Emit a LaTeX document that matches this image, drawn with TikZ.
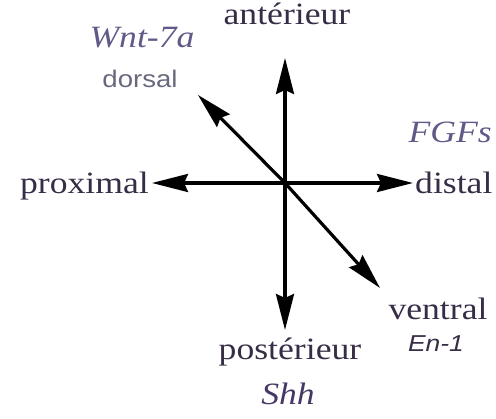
\documentclass[tikz,border=0pt]{standalone}
\usepackage{fontspec}
\setmainfont{Liberation Serif}[FakeStretch=1.15]
\setsansfont{Liberation Sans}[FakeStretch=1.15]
\usetikzlibrary{arrows.meta}
\definecolor{inkcol}{RGB}{55,45,70}
\definecolor{genecol}{RGB}{95,90,135}
\definecolor{shhcol}{RGB}{70,55,100}
\definecolor{sanscol}{RGB}{105,105,125}

\begin{document}
\begin{tikzpicture}[
  x=1pt, y=-1pt,
  lbl/.style={font=\fontsize{31}{33}\selectfont, text=inkcol, inner sep=0pt, anchor=base},
  gene/.style={lbl, font=\fontsize{31}{33}\selectfont\itshape, text=genecol},
  slbl/.style={lbl, font=\sffamily\fontsize{24}{26}\selectfont, text=sanscol},
  sgene/.style={lbl, font=\sffamily\itshape\fontsize{23}{25}\selectfont, text=inkcol},
  axis/.style={line width=3.2pt, -{Stealth[length=36pt, width=18pt, inset=4pt]}},
]
\useasboundingbox (0,0) rectangle (496,419);

% axes
\coordinate (o) at (285,183);
\coordinate (ant) at (285,58);
\coordinate (post) at (285,330);
\coordinate (prox) at (152,183);
\coordinate (dist) at (413,183);
\coordinate (dors) at (198,95);
\coordinate (vent) at (380,288);

\foreach \t in {ant, post, prox, dist, dors, vent}
  \draw[axis] (o) -- (\t);

% labels
\node[lbl] (anterieur) at (287,25) {antérieur};
\node[lbl] (posterieur) at (290,360) {postérieur};
\node[gene, text=shhcol] (shh) at (288,405) {Shh};
\node[lbl, anchor=base east] (proximal) at (149,194) {proximal};
\node[lbl, anchor=base west] (distal) at (415,194) {distal};
\node[gene, anchor=base east] (fgfs) at (492,143) {FGFs};
\node[gene] (wnt) at (142,48) {Wnt-7a};
\node[slbl] (dorsal) at (140,88) {dorsal};
\node[lbl] (ventral) at (438,320) {ventral};
\node[sgene] (en) at (436,352) {En-1};
\end{tikzpicture}
\end{document}
